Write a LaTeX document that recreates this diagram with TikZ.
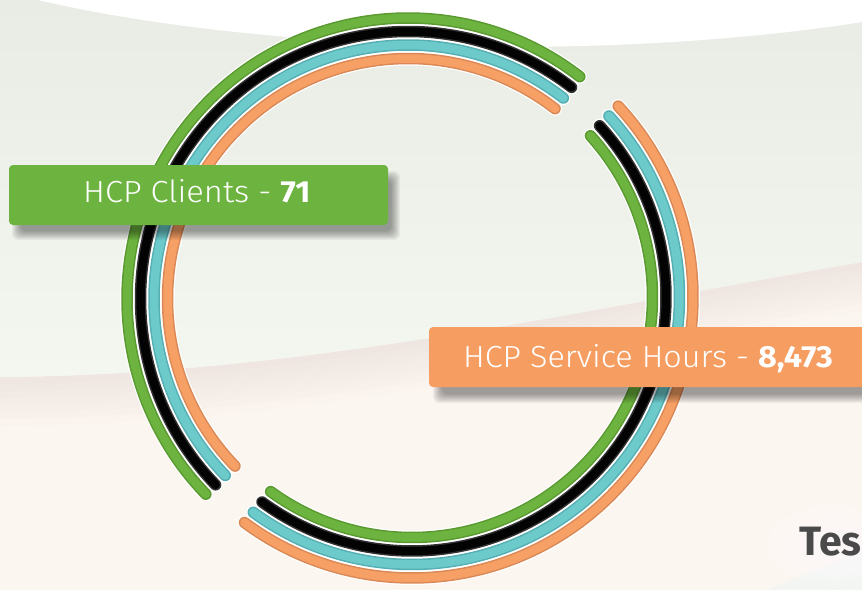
\documentclass[tikz,border=0pt]{standalone}
\usepackage{fontspec}
\setmainfont{Fira Sans}
\newfontfamily\lightfont{Fira Sans Light}
\usetikzlibrary{calc}

\definecolor{bgpeach}{HTML}{FCF6F1}
\definecolor{bgpeachdark}{HTML}{E6DCD6}
\definecolor{bggreyA}{HTML}{E9ECE5}
\definecolor{bggreyB}{HTML}{F4F6F0}
\definecolor{bglight}{HTML}{F3F5F3}

\definecolor{grnmain}{HTML}{6DB33F}
\definecolor{grndark}{HTML}{5A9A31}
\definecolor{blkmain}{HTML}{030303}
\definecolor{blkdark}{HTML}{333333}
\definecolor{teamain}{HTML}{6DCACB}
\definecolor{teadark}{HTML}{56AFB2}
\definecolor{ormain}{HTML}{F7A066}
\definecolor{ordark}{HTML}{DA8956}

\definecolor{labelgreen}{HTML}{6CB33F}
\definecolor{labelorange}{HTML}{F69E61}
\definecolor{headgrey}{HTML}{4A4A4A}

\tikzset{
  halo/.style={white, line width=14pt, line cap=round},
  tubeedge/.style={line width=11.5pt, line cap=round},
  tubecore/.style={line width=8.5pt, line cap=round},
  labelbox/.style={rounded corners=4pt},
  labeltext/.style={text=white, inner sep=0pt, anchor=base west,
                    font=\fontsize{30.5}{32}\selectfont\lightfont},
}

% one shaded band: #1 centre, #2 radius, #3 start angle, #4 end angle,
% #5 edge colour, #6 core colour
\newcommand\tubearc[6]{%
  \draw[halo] (#1) ++(#3:#2) arc[start angle=#3, end angle=#4, radius=#2];
  \draw[tubeedge, #5] (#1) ++(#3:#2) arc[start angle=#3, end angle=#4, radius=#2];
  \draw[tubecore, #6] (#1) ++(#3:#2) arc[start angle=#3, end angle=#4, radius=#2];
}

% blurred drop shadow of a rectangle (x1,y1) -- (x2,y2)
\newcommand\softshadow[4]{%
  \foreach \s in {0,...,9}{%
    \fill[black, opacity=0.045, rounded corners=6pt]
      (#1+\s-4, #2-\s+4) rectangle (#3-\s+4, #4+\s-4);
  }%
}

\begin{document}
\begin{tikzpicture}[x=1pt, y=1pt]
\useasboundingbox (0,0) rectangle (862,-590);
\clip (0,0) rectangle (862,-590);

% ---- background fields
\fill[bgpeach] (0,0) rectangle (862,-590);
\foreach \k in {1,...,7}{%
  \fill[bgpeachdark, opacity=0.09]
    (0,-377) .. controls (300,-375) and (580,-310) .. (862,-262)
    -- ++(0,-7*\k) .. controls (580,-310-7*\k) and (300,-375-7*\k) .. (0,-377-7*\k) -- cycle;
}
\shade[top color=bggreyA, bottom color=bggreyB]
  (0,0) -- (862,0) -- (862,-262)
  .. controls (580,-310) and (300,-375) .. (0,-377) -- cycle;
\fill[white]
  (38,0) .. controls (200,-38) and (420,-50) .. (580,-46)
  .. controls (700,-43) and (800,-32) .. (862,-22) -- (862,0) -- cycle;
\fill[bglight]
  (768,-590) .. controls (800,-576) and (830,-564) .. (862,-553) -- (862,-590) -- cycle;
\foreach \k in {1,...,6}{%
  \fill[white, opacity=0.12] (835,-545) ellipse[x radius=20+8*\k, y radius=10+5*\k];
}

% ---- rings
\coordinate (c1) at (408,-299);
\coordinate (c2) at (412,-297);

% upper-left set: green outermost
\tubearc{c1}{281}{52.3}{224}{grndark}{grnmain}
\tubearc{c1}{267.5}{52.3}{224}{blkdark}{blkmain}
\tubearc{c1}{254}{52.3}{224}{teadark}{teamain}
\tubearc{c1}{240.5}{52.3}{224}{ordark}{ormain}

% lower-right set: orange outermost
\tubearc{c2}{281}{42.8}{-126.6}{ordark}{ormain}
\tubearc{c2}{267.5}{42.6}{-126.4}{teadark}{teamain}
\tubearc{c2}{254}{42.4}{-126.2}{blkdark}{blkmain}
\tubearc{c2}{240.5}{42.1}{-126.0}{grndark}{grnmain}

% ---- labels
\softshadow{16}{-175}{396}{-236}
\fill[labelgreen, labelbox] (9,-165) rectangle (388,-225);
\node[labeltext] (clients) at (83,-202)
  {\scalebox{1.07}[1]{HCP Clients - {\normalfont\bfseries 71}}};

\softshadow{437}{-337}{880}{-399}
\fill[labelorange, labelbox] (429,-327) rectangle (880,-387);
\node[labeltext] (hours) at (463,-367)
  {\scalebox{1.06}[1]{HCP Service Hours - {\normalfont\bfseries 8,473}}};

\node[anchor=base west, inner sep=0pt, text=headgrey,
      font=\fontsize{41}{43}\selectfont\bfseries] (head) at (799,-555) {Tes};
\end{tikzpicture}
\end{document}
